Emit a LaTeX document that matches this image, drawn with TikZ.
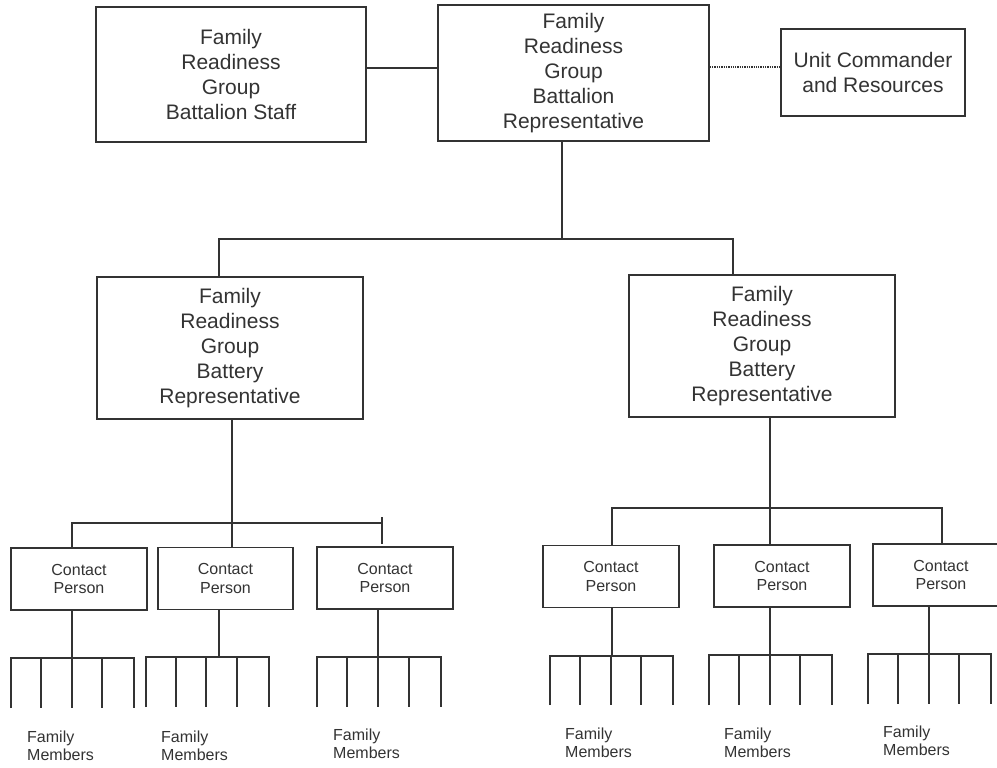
\documentclass[tikz,border=0pt]{standalone}
\usepackage{fontspec}
\setmainfont{Liberation Sans}
\definecolor{ink}{HTML}{333333}
\begin{document}
\begin{tikzpicture}[x=1pt,y=-1pt,
  conn/.style={draw=ink, line width=1.6pt},
  bigbox/.style={draw=ink, line width=1.6pt, text=ink, align=center, inner sep=0pt,
    font=\fontsize{21}{24.8}\selectfont},
  cbox/.style={draw=ink, line width=1.6pt, text=ink, align=center, inner sep=0pt,
    minimum width=136pt, minimum height=62pt, font=\fontsize{16}{18.5}\selectfont},
  fm/.style={text=ink, align=left, inner sep=0pt, anchor=north west,
    font=\fontsize{16}{17.5}\selectfont}]
\clip (0,0) rectangle (997,768);
\fill[white] (0,0) rectangle (997,768);

% top row
\node[bigbox, minimum width=270pt, minimum height=135pt] (tl) at (231,74.5)
  {Family\\Readiness\\Group\\Battalion Staff};
\node[bigbox, minimum width=271pt, minimum height=136pt] (tc) at (573.5,73)
  {Family\\Readiness\\Group\\Battalion\\Representative};
\node[bigbox, minimum width=184pt, minimum height=87pt] (uc) at (873,72.5)
  {Unit Commander\\and Resources};

% battery row
\node[bigbox, minimum width=266pt, minimum height=142pt] (lb) at (230,348)
  {Family\\Readiness\\Group\\Battery\\Representative};
\node[bigbox, minimum width=266pt, minimum height=142pt] (rb) at (762,346)
  {Family\\Readiness\\Group\\Battery\\Representative};

% contact persons
\node[cbox] (c1) at (79,579) {Contact\\Person};
\node[cbox, minimum width=135pt] (c2) at (225.5,578.5) {Contact\\Person};
\node[cbox] (c3) at (385,578) {Contact\\Person};
\node[cbox] (c4) at (611,576.5) {Contact\\Person};
\node[cbox] (c5) at (782,576) {Contact\\Person};
\node[cbox] (c6) at (941,575) {Contact\\Person};

% family member labels
\node[fm] (m1) at (27,731) {Family\\Members};
\node[fm] (m2) at (161,731) {Family\\Members};
\node[fm] (m3) at (333,729) {Family\\Members};
\node[fm] (m4) at (565,728) {Family\\Members};
\node[fm] (m5) at (724,728) {Family\\Members};
\node[fm] (m6) at (883,726) {Family\\Members};

% top connectors
\draw[conn] (tl.east |- 0,68) -- (tc.west |- 0,68);
\draw[draw=ink, line width=1.3pt, densely dotted] (tc.east |- 0,67) -- (uc.west |- 0,67);
\draw[conn] (tc.south -| 562,0) -- (562,239);
\draw[conn] (lb.north -| 219,0) |- (733,239) -- (rb.north -| 733,0);

% left battery connectors
\coordinate (t3a) at (382,517);
\coordinate (t3b) at (382,544);
\draw[conn] (lb.south -| 232,0) -- (c2.north -| 232,0);
\draw[conn] (c1.north -| 72,0) |- (382,523);
\draw[conn] (t3a) -- (t3b);

% right battery connectors
\draw[conn] (rb.south -| 770,0) -- (c5.north -| 770,0);
\draw[conn] (c4.north -| 612,0) |- (942,508) -- (c6.north -| 942,0);

% combs
\foreach \n/\vx/\y/\b/\xa/\xb/\xc/\xd/\xe in {
  c1/72/658/708/11/41/72/102/134,
  c2/219/657/707/146/176/206/237/269,
  c3/378/657/707/317/347/378/409/441,
  c4/612/656/705/550/580/611/641/673,
  c5/770/655/705/709/739/770/800/832,
  c6/929/654/704/868/898/929/959/991}{
  \draw[conn] (\n.south -| \vx,0) -- (\vx,\y);
  \draw[conn] (\xa,\b) -- (\xa,\y) -- (\xe,\y) -- (\xe,\b);
  \foreach \t in {\xb,\xc,\xd} \draw[conn] (\t,\y) -- (\t,\b);
}
\end{tikzpicture}
\end{document}
